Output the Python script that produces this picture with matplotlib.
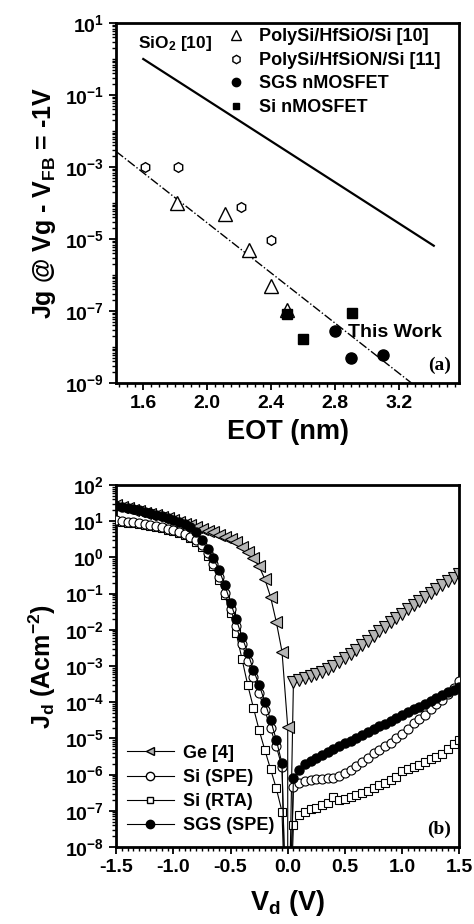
import numpy as np
import matplotlib
matplotlib.use('Agg')
import matplotlib.pyplot as plt
from matplotlib.ticker import FixedLocator, LogLocator, MultipleLocator, NullFormatter, FuncFormatter
from matplotlib.lines import Line2D

plt.rcParams['font.family'] = 'Liberation Sans'
plt.rcParams['font.weight'] = 'bold'
plt.rcParams['axes.labelweight'] = 'bold'
plt.rcParams['mathtext.fontset'] = 'custom'
plt.rcParams['mathtext.rm'] = 'Liberation Sans:bold'
plt.rcParams['mathtext.bf'] = 'Liberation Sans:bold'
plt.rcParams['mathtext.default'] = 'bf'

# ---- panel (a): gate leakage vs EOT ----
hfsio_eot = [1.81, 2.11, 2.26, 2.40, 2.50]
hfsio_jg = [1.0e-4, 5.1e-5, 5.0e-6, 5.0e-7, 1.1e-7]
hfsion_eot = [1.61, 1.82, 2.21, 2.40]
hfsion_jg = [1.0e-3, 1.0e-3, 7.9e-5, 9.3e-6]
sgs_eot = [2.80, 2.90, 3.10]
sgs_jg = [2.8e-8, 4.9e-9, 6.0e-9]
si_eot = [2.50, 2.60, 2.91]
si_jg = [8.0e-8, 1.7e-8, 9.0e-8]
sio2_eot = [1.60, 3.42]
sio2_jg = [1.0, 6.5e-6]
fit_eot = [1.43, 3.28]
fit_jg = [2.7e-3, 1.0e-9]

# ---- panel (b): Jd vs Vd (log10 of |J|) ----
vd_neg = [-1.5, -1.45, -1.4, -1.35, -1.3, -1.25, -1.2, -1.15, -1.1, -1.05,
          -1.0, -0.95, -0.9, -0.85, -0.8, -0.75, -0.7, -0.65, -0.6, -0.55,
          -0.5, -0.45, -0.4, -0.35, -0.3, -0.25, -0.2, -0.15, -0.1, -0.05]
vd_pos = [0.05, 0.1, 0.15, 0.2, 0.25, 0.3, 0.35, 0.4, 0.45, 0.5,
          0.55, 0.6, 0.65, 0.7, 0.75, 0.8, 0.85, 0.9, 0.95, 1.0,
          1.05, 1.1, 1.15, 1.2, 1.25, 1.3, 1.35, 1.4, 1.45, 1.5]

ge_neg = [1.44, 1.40, 1.36, 1.32, 1.28, 1.24, 1.20, 1.16, 1.12, 1.08,
          1.03, 0.98, 0.93, 0.89, 0.84, 0.79, 0.74, 0.69, 0.63, 0.57,
          0.50, 0.42, 0.30, 0.16, -0.02, -0.25, -0.60, -1.09, -1.78, -2.60]
ge_zero = -4.68
ge_pos = [-3.43, -3.38, -3.32, -3.27, -3.22, -3.16, -3.09, -3.00, -2.90, -2.79,
          -2.67, -2.55, -2.42, -2.30, -2.17, -2.04, -1.92, -1.79, -1.67, -1.55,
          -1.43, -1.32, -1.20, -1.09, -0.98, -0.87, -0.77, -0.66, -0.56, -0.45]

spe_neg = [1.03, 1.01, 0.99, 0.97, 0.95, 0.93, 0.90, 0.87, 0.83, 0.79,
           0.75, 0.70, 0.64, 0.57, 0.48, 0.35, 0.12, -0.18, -0.55, -0.98,
           -1.42, -1.90, -2.38, -2.85, -3.30, -3.75, -4.22, -4.72, -5.22, -5.78]
spe_pos = [-6.33, -6.22, -6.17, -6.14, -6.13, -6.12, -6.10, -6.08, -6.04, -5.96,
           -5.86, -5.76, -5.65, -5.53, -5.41, -5.31, -5.22, -5.12, -5.00, -4.88,
           -4.73, -4.58, -4.47, -4.34, -4.20, -4.06, -3.93, -3.78, -3.62, -3.42]

rta_neg = [1.00, 0.98, 0.96, 0.94, 0.92, 0.90, 0.87, 0.84, 0.80, 0.76,
           0.72, 0.67, 0.61, 0.53, 0.43, 0.28, 0.05, -0.25, -0.62, -1.05,
           -1.54, -2.10, -2.80, -3.52, -4.15, -4.77, -5.32, -5.85, -6.38, -7.02]
rta_pos = [-7.39, -7.12, -7.03, -6.96, -6.91, -6.85, -6.79, -6.63, -6.70, -6.66,
           -6.62, -6.57, -6.52, -6.45, -6.37, -6.30, -6.23, -6.15, -6.06, -5.90,
           -5.84, -5.79, -5.73, -5.66, -5.58, -5.50, -5.42, -5.30, -5.16, -5.05]

sgs_neg = [1.42, 1.39, 1.36, 1.33, 1.30, 1.26, 1.22, 1.18, 1.14, 1.09,
           1.04, 0.98, 0.92, 0.84, 0.70, 0.48, 0.22, -0.03, -0.35, -0.76,
           -1.25, -1.71, -2.19, -2.63, -3.11, -3.52, -3.99, -4.49, -5.04, -5.69]
sgs_pos = [-6.10, -5.87, -5.72, -5.62, -5.53, -5.45, -5.37, -5.29, -5.21, -5.13,
           -5.06, -4.98, -4.90, -4.82, -4.74, -4.67, -4.59, -4.51, -4.43, -4.35,
           -4.27, -4.20, -4.12, -4.04, -3.96, -3.88, -3.81, -3.73, -3.65, -3.57]

floor_log = -12  # current at Vd = 0 is below the axis

fig = plt.figure(figsize=(4.74, 9.24), dpi=100)
ax1 = fig.add_axes([0.245, 0.5855, 0.724, 0.3896])
ax2 = fig.add_axes([0.245, 0.0833, 0.724, 0.3918])

def logfmt(v, pos):
    return r'$10^{%d}$' % int(round(np.log10(v)))

def style(ax):
    for s in ax.spines.values():
        s.set_linewidth(2.0)
    ax.tick_params(which='major', direction='out', length=5, width=1.3, labelsize=14)
    ax.tick_params(which='minor', direction='out', length=3, width=1.0)

# panel (a)
ax1.semilogy(sio2_eot, sio2_jg, '-', color='black', lw=1.6)
ax1.semilogy(fit_eot, fit_jg, '-.', color='black', lw=1.0)
ax1.plot(hfsio_eot, hfsio_jg, '^', ms=10, mfc='white', mec='black', mew=1.0)
ax1.plot(hfsion_eot, hfsion_jg, 'h', ms=7, mfc='white', mec='black', mew=1.0)
ax1.plot(si_eot, si_jg, 's', ms=7, color='black')
ax1.plot(sgs_eot, sgs_jg, 'o', ms=8, color='black')
ax1.set_xlim(1.43, 3.58)
ax1.set_ylim(1e-9, 10)
ax1.xaxis.set_major_locator(FixedLocator([1.6, 2.0, 2.4, 2.8, 3.2]))
ax1.xaxis.set_major_formatter(FuncFormatter(lambda v, p: '%.1f' % v))
ax1.xaxis.set_minor_locator(MultipleLocator(0.05))
ax1.yaxis.set_major_locator(FixedLocator([1e1, 1e-1, 1e-3, 1e-5, 1e-7, 1e-9]))
ax1.yaxis.set_major_formatter(FuncFormatter(logfmt))
ax1.yaxis.set_minor_locator(LogLocator(base=10, subs=np.arange(1, 10), numticks=30))
ax1.yaxis.set_minor_formatter(NullFormatter())
style(ax1)
ax1.set_xlabel('EOT (nm)', fontsize=19.5, labelpad=5)
ax1.set_ylabel(r'Jg @ Vg - V$_{FB}$ = -1V', fontsize=18, labelpad=5)

h1 = [Line2D([], [], ls='', marker='^', ms=7, mfc='white', mec='black'),
      Line2D([], [], ls='', marker='h', ms=6, mfc='white', mec='black'),
      Line2D([], [], ls='', marker='o', ms=6, color='black'),
      Line2D([], [], ls='', marker='s', ms=5, color='black')]
ax1.legend(h1, ['PolySi/HfSiO/Si [10]', 'PolySi/HfSiON/Si [11]', 'SGS nMOSFET', 'Si nMOSFET'],
           loc='upper left', bbox_to_anchor=(0.29, 1.015), frameon=False, fontsize=13,
           handlelength=1.0, handletextpad=0.8, labelspacing=0.36, borderaxespad=0.2)
ax1.text(0.064, 0.944, r'SiO$_2$ [10]', transform=ax1.transAxes, fontsize=12.5, va='center')
ax1.text(0.676, 0.139, 'This Work', transform=ax1.transAxes, fontsize=14, va='center')
ax1.text(0.975, 0.05, '(a)', transform=ax1.transAxes, fontsize=14, ha='right', va='center',
         family='Liberation Serif', weight='bold')

# panel (b)
ge_v = vd_neg + [0.0, 0.0] + vd_pos
ge_j = 10.0 ** np.array(ge_neg + [ge_zero, floor_log] + ge_pos)
ax2.semilogy(ge_v, ge_j, '-', color='black', lw=0.8, zorder=1)
ax2.plot(vd_neg + [0.0], 10.0 ** np.array(ge_neg + [ge_zero]), '<', ls='', ms=8,
         mfc='#b5b5b5', mec='black', mew=0.8, zorder=1)
ax2.plot(vd_pos, 10.0 ** np.array(ge_pos), 'v', ls='', ms=8,
         mfc='#b5b5b5', mec='black', mew=0.8, zorder=1)

v_all = vd_neg + [0.0] + vd_pos
ax2.semilogy(v_all, 10.0 ** np.array(rta_neg + [floor_log] + rta_pos), '-', marker='s', ms=5.5,
             color='black', mfc='white', mec='black', mew=0.8, lw=0.8, zorder=2)
ax2.semilogy(v_all, 10.0 ** np.array(spe_neg + [floor_log] + spe_pos), '-', marker='o', ms=6.5,
             color='black', mfc='white', mec='black', mew=0.8, lw=0.8, zorder=3)
ax2.semilogy(v_all, 10.0 ** np.array(sgs_neg + [floor_log] + sgs_pos), '-', marker='o', ms=6.5,
             color='black', mfc='black', mec='black', lw=0.8, zorder=4)

ax2.set_xlim(-1.5, 1.5)
ax2.set_ylim(1e-8, 1e2)
ax2.xaxis.set_major_locator(MultipleLocator(0.5))
ax2.xaxis.set_major_formatter(FuncFormatter(lambda v, p: '%.1f' % v))
ax2.xaxis.set_minor_locator(MultipleLocator(0.05))
ax2.yaxis.set_major_locator(LogLocator(base=10, numticks=20))
ax2.yaxis.set_major_formatter(FuncFormatter(logfmt))
ax2.yaxis.set_minor_locator(LogLocator(base=10, subs=np.arange(2, 10), numticks=30))
ax2.yaxis.set_minor_formatter(NullFormatter())
style(ax2)
ax2.set_xlabel(r'V$_d$ (V)', fontsize=19.5, labelpad=9)
ax2.set_ylabel(r'J$_d$ (Acm$^{-2}$)', fontsize=18, labelpad=5)

h2 = [Line2D([], [], color='black', lw=0.8, marker='<', ms=6, mfc='#b5b5b5', mec='black'),
      Line2D([], [], color='black', lw=0.8, marker='o', ms=6, mfc='white', mec='black'),
      Line2D([], [], color='black', lw=0.8, marker='s', ms=5, mfc='white', mec='black'),
      Line2D([], [], color='black', lw=0.8, marker='o', ms=6, mfc='black', mec='black')]
ax2.legend(h2, ['Ge [4]', 'Si (SPE)', 'Si (RTA)', 'SGS (SPE)'], loc='lower left',
           bbox_to_anchor=(0.0, 0.005), frameon=False, fontsize=13,
           handlelength=2.6, handletextpad=0.5, labelspacing=0.4, borderaxespad=0.2)
ax2.text(0.975, 0.05, '(b)', transform=ax2.transAxes, fontsize=14, ha='right', va='center',
         family='Liberation Serif', weight='bold')

for ax in (ax1, ax2):
    for lab in ax.get_xticklabels() + ax.get_yticklabels():
        lab.set_fontweight('bold')

fig.savefig('out.png', dpi=100)
